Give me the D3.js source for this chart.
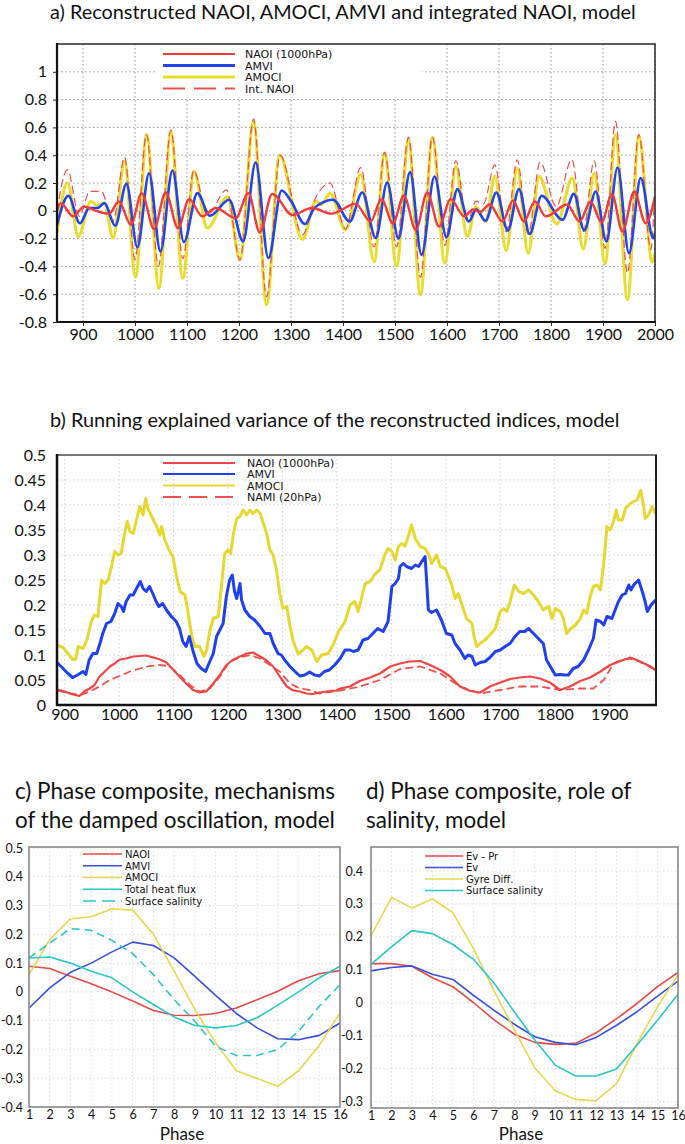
<!DOCTYPE html>
<html><head><meta charset="utf-8">
<script src="https://cdn.jsdelivr.net/npm/d3@7"></script>
<style>body{margin:0;background:#fff}</style>
</head><body>
<svg id="chart" width="685" height="1144" xmlns="http://www.w3.org/2000/svg"></svg>
<script>
// ---------------- DATA ----------------
// Panel a: reconstructed indices, [year, value] read at extrema
const aAMOCI = [[850,-0.16],[870,0.20],[891,-0.185],[915,0.067],[927,0.04],[941,0.055],[958,-0.196],[980,0.355],[1001,-0.477],[1022.5,0.547],[1046,-0.556],[1069,0.57],[1092,-0.485],[1113.5,0.283],[1139,-0.125],[1178,0.10],[1202,-0.35],[1228,0.64],[1253,-0.676],[1278,0.40],[1322,-0.204],[1348,0.07],[1358,0.045],[1375,0.125],[1405,-0.137],[1434,0.26],[1460,-0.365],[1480,0.415],[1503,-0.396],[1526,0.51],[1549,-0.604],[1572,0.527],[1596,-0.377],[1617,0.32],[1639,-0.185],[1656,0.03],[1674,-0.077],[1692,0.247],[1714,-0.285],[1735,0.307],[1756,-0.305],[1777,0.247],[1811,-0.095],[1841,0.235],[1862,-0.276],[1883,0.27],[1904,-0.38],[1924,0.547],[1947,-0.64],[1969,0.535],[1995,-0.37],[2000,-0.31]];
const aAMVI = [[850,-0.1],[872,0.108],[894,-0.09],[912,0.02],[928,0.02],[941,0.055],[962,-0.108],[983.5,0.194],[1004.6,-0.262],[1027,0.27],[1049,-0.293],[1072,0.29],[1094,-0.225],[1120,0.127],[1144,-0.036],[1181,0.08],[1208,-0.22],[1232,0.347],[1256.5,-0.34],[1282,0.146],[1300,0.07],[1327,-0.096],[1345,0.02],[1381,0.08],[1413,-0.077],[1437,0.132],[1463,-0.196],[1485,0.204],[1506.5,-0.2],[1529,0.278],[1551,-0.317],[1576,0.247],[1599,-0.19],[1620,0.156],[1642,-0.077],[1656,0.01],[1674,-0.072],[1695,0.132],[1717,-0.142],[1738.5,0.156],[1759,-0.166],[1782,0.108],[1822,-0.065],[1844,0.122],[1864,-0.142],[1886,0.139],[1906.6,-0.22],[1928,0.312],[1950,-0.305],[1972.5,0.235],[1996.7,-0.197],[2000,-0.16]];
const aNAOI = [[850,0.0],[857,0.055],[881,-0.04],[902,0.03],[925,0.0],[950,-0.022],[969,0.067],[992,-0.1],[1013,0.127],[1036.5,-0.13],[1059,0.132],[1082.7,-0.125],[1104,0.084],[1129.6,-0.04],[1155,0.02],[1193.6,-0.053],[1218,0.127],[1240,-0.156],[1264,0.122],[1302.7,-0.03],[1340,0.02],[1378,-0.02],[1424,0.05],[1453,-0.077],[1474,0.084],[1496,-0.09],[1517,0.108],[1540,-0.137],[1562,0.132],[1584.6,-0.113],[1607,0.084],[1633,-0.04],[1650,0.01],[1663,-0.01],[1682,0.045],[1706.6,-0.077],[1727,0.074],[1748,-0.077],[1769,0.067],[1790,-0.04],[1831,0.045],[1855,-0.077],[1876,0.067],[1897.5,-0.084],[1917,0.122],[1937.5,-0.149],[1960,0.139],[1982,-0.09],[2000,0.1]];
const aIntNAOI = [[850,0.0],[870,0.295],[893,-0.04],[913,0.14],[935,0.14],[958,-0.07],[980,0.386],[1000,-0.35],[1022,0.55],[1045,-0.40],[1069,0.58],[1092,-0.345],[1113,0.29],[1139,-0.03],[1176,0.15],[1202,-0.355],[1228,0.66],[1253,-0.62],[1279,0.40],[1322,-0.173],[1347,0.09],[1375,0.2],[1405,-0.13],[1434,0.31],[1460,-0.26],[1480,0.42],[1503,-0.26],[1526,0.53],[1549,-0.48],[1572,0.53],[1596,-0.25],[1617,0.36],[1639,-0.077],[1656,0.07],[1670,0.05],[1692,0.33],[1714,-0.15],[1735,0.367],[1756,-0.17],[1779,0.35],[1810,0.03],[1840,0.37],[1862,-0.15],[1883,0.36],[1904,-0.27],[1924,0.643],[1947,-0.448],[1969,0.55],[1992,-0.28],[2000,0.2]];
const aXTicks = [900,1000,1100,1200,1300,1400,1500,1600,1700,1800,1900,2000];
const aYTicks = [-0.8,-0.6,-0.4,-0.2,0,0.2,0.4,0.6,0.8,1];
const aYLabels = ["-0.8","-0.6","-0.4","-0.2","0","0.2","0.4","0.6","0.8","1"];

// Panel b: running explained variance, [year, value]
const bAMOCI = [[886,0.12],[897,0.115],[906,0.103],[915,0.091],[920,0.091],[925,0.117],[934,0.113],[941,0.13],[949,0.167],[955,0.18],[961,0.177],[968,0.25],[974,0.243],[980,0.25],[986,0.277],[992,0.307],[998,0.30],[1004,0.303],[1010,0.343],[1015,0.367],[1020,0.347],[1026,0.343],[1032,0.37],[1038,0.397],[1044,0.38],[1049,0.413],[1053,0.393],[1060,0.377],[1069,0.357],[1075,0.34],[1078,0.357],[1084,0.33],[1093,0.307],[1099,0.297],[1105,0.26],[1112,0.227],[1121,0.22],[1127,0.183],[1133,0.14],[1139,0.117],[1148,0.117],[1156,0.097],[1161,0.11],[1167,0.15],[1173,0.173],[1182,0.177],[1188,0.237],[1194,0.303],[1200,0.31],[1205,0.303],[1210,0.343],[1216,0.373],[1222,0.377],[1228,0.39],[1234,0.38],[1240,0.39],[1246,0.383],[1253,0.39],[1259,0.383],[1265,0.363],[1271,0.343],[1277,0.31],[1283,0.30],[1289,0.27],[1295,0.223],[1301,0.193],[1308,0.197],[1314,0.157],[1320,0.127],[1329,0.102],[1335,0.107],[1344,0.117],[1354,0.11],[1363,0.087],[1372,0.10],[1384,0.103],[1393,0.12],[1403,0.147],[1415,0.167],[1424,0.20],[1433,0.207],[1439,0.187],[1446,0.217],[1452,0.243],[1461,0.247],[1470,0.262],[1479,0.27],[1488,0.30],[1494,0.313],[1501,0.307],[1507,0.29],[1513,0.317],[1519,0.323],[1525,0.318],[1531,0.337],[1537,0.36],[1544,0.333],[1553,0.317],[1562,0.313],[1568,0.303],[1574,0.283],[1583,0.30],[1590,0.277],[1599,0.273],[1605,0.257],[1611,0.24],[1617,0.213],[1623,0.223],[1629,0.203],[1638,0.173],[1648,0.163],[1652,0.137],[1657,0.117],[1663,0.123],[1672,0.13],[1681,0.14],[1691,0.153],[1700,0.187],[1706,0.193],[1712,0.187],[1718,0.207],[1726,0.24],[1734,0.227],[1743,0.223],[1752,0.23],[1761,0.22],[1770,0.207],[1779,0.19],[1789,0.197],[1795,0.173],[1801,0.193],[1810,0.187],[1816,0.173],[1822,0.143],[1830,0.153],[1838,0.16],[1847,0.173],[1853,0.19],[1859,0.183],[1865,0.217],[1871,0.237],[1878,0.24],[1884,0.23],[1890,0.283],[1896,0.357],[1902,0.35],[1908,0.367],[1913,0.39],[1917,0.37],[1924,0.37],[1930,0.393],[1939,0.403],[1945,0.407],[1951,0.41],[1958,0.429],[1963,0.40],[1966,0.373],[1972,0.38],[1979,0.397],[1985,0.383]];
const bAMVI = [[886,0.085],[897,0.073],[906,0.063],[915,0.055],[925,0.061],[934,0.067],[939,0.061],[945,0.09],[952,0.103],[959,0.103],[966,0.127],[970,0.143],[977,0.163],[985,0.167],[992,0.183],[998,0.203],[1004,0.197],[1008,0.187],[1013,0.207],[1020,0.22],[1026,0.22],[1032,0.233],[1039,0.247],[1044,0.233],[1050,0.227],[1056,0.237],[1063,0.22],[1068,0.207],[1073,0.197],[1080,0.203],[1087,0.19],[1096,0.177],[1105,0.167],[1111,0.153],[1117,0.127],[1123,0.117],[1129,0.137],[1136,0.107],[1143,0.083],[1151,0.073],[1159,0.067],[1165,0.083],[1173,0.103],[1179,0.137],[1185,0.15],[1191,0.163],[1197,0.217],[1203,0.25],[1208,0.26],[1212,0.227],[1216,0.213],[1222,0.243],[1225,0.21],[1231,0.19],[1240,0.177],[1249,0.17],[1259,0.157],[1268,0.143],[1277,0.143],[1283,0.123],[1292,0.103],[1298,0.1],[1304,0.09],[1314,0.077],[1323,0.067],[1332,0.058],[1341,0.06],[1350,0.066],[1359,0.06],[1368,0.058],[1377,0.067],[1386,0.07],[1396,0.08],[1406,0.093],[1415,0.11],[1424,0.11],[1430,0.107],[1439,0.11],[1448,0.13],[1457,0.133],[1466,0.143],[1475,0.153],[1485,0.147],[1494,0.167],[1501,0.237],[1507,0.243],[1513,0.253],[1516,0.277],[1522,0.283],[1528,0.277],[1537,0.273],[1544,0.28],[1550,0.277],[1556,0.287],[1562,0.297],[1568,0.19],[1574,0.185],[1583,0.19],[1592,0.17],[1601,0.143],[1611,0.14],[1617,0.123],[1626,0.11],[1635,0.093],[1641,0.1],[1648,0.097],[1654,0.08],[1663,0.085],[1672,0.087],[1681,0.095],[1691,0.107],[1700,0.11],[1709,0.117],[1718,0.123],[1727,0.137],[1736,0.147],[1745,0.147],[1752,0.153],[1761,0.143],[1770,0.133],[1779,0.123],[1785,0.09],[1792,0.077],[1801,0.06],[1810,0.061],[1819,0.06],[1825,0.06],[1834,0.073],[1843,0.077],[1853,0.09],[1862,0.11],[1871,0.133],[1876,0.17],[1884,0.167],[1890,0.16],[1896,0.177],[1905,0.173],[1911,0.19],[1917,0.207],[1924,0.22],[1930,0.223],[1936,0.24],[1940,0.23],[1945,0.24],[1954,0.25],[1960,0.23],[1966,0.207],[1970,0.187],[1977,0.2],[1985,0.21]];
const bNAOI = [[886,0.031],[900,0.027],[912,0.022],[927,0.018],[936,0.027],[946,0.033],[955,0.04],[964,0.057],[974,0.067],[983,0.077],[992,0.083],[1001,0.091],[1013,0.093],[1026,0.097],[1038,0.098],[1050,0.099],[1063,0.095],[1075,0.091],[1087,0.085],[1099,0.071],[1111,0.057],[1123,0.043],[1136,0.03],[1148,0.025],[1160,0.027],[1173,0.043],[1185,0.06],[1197,0.08],[1210,0.091],[1222,0.097],[1234,0.103],[1246,0.105],[1259,0.097],[1271,0.089],[1283,0.077],[1295,0.057],[1308,0.037],[1320,0.029],[1332,0.027],[1344,0.023],[1356,0.022],[1368,0.025],[1381,0.027],[1399,0.029],[1406,0.033],[1424,0.037],[1442,0.048],[1461,0.055],[1479,0.063],[1498,0.077],[1516,0.083],[1534,0.087],[1553,0.088],[1571,0.08],[1590,0.07],[1608,0.057],[1626,0.037],[1645,0.028],[1663,0.025],[1681,0.037],[1700,0.045],[1718,0.052],[1736,0.055],[1755,0.057],[1773,0.053],[1791,0.045],[1810,0.03],[1828,0.037],[1847,0.048],[1865,0.055],[1884,0.067],[1902,0.08],[1921,0.088],[1939,0.095],[1957,0.087],[1976,0.077],[1985,0.07]];
const bNAMI = [[886,0.029],[912,0.023],[930,0.02],[946,0.027],[964,0.037],[983,0.05],[1001,0.058],[1020,0.067],[1038,0.073],[1056,0.078],[1075,0.08],[1093,0.077],[1111,0.06],[1130,0.04],[1148,0.027],[1167,0.033],[1185,0.057],[1203,0.087],[1222,0.095],[1240,0.1],[1259,0.093],[1277,0.08],[1295,0.067],[1314,0.043],[1332,0.033],[1350,0.03],[1368,0.023],[1393,0.027],[1406,0.029],[1442,0.037],[1479,0.05],[1516,0.072],[1553,0.077],[1590,0.063],[1626,0.037],[1663,0.023],[1700,0.03],[1736,0.037],[1773,0.037],[1810,0.03],[1847,0.033],[1871,0.033],[1890,0.05],[1908,0.083],[1926,0.092],[1945,0.092],[1963,0.083],[1985,0.07]];
const bXTicks = [900,1000,1100,1200,1300,1400,1500,1600,1700,1800,1900];
const bYTicks = [0,0.05,0.1,0.15,0.2,0.25,0.3,0.35,0.4,0.45,0.5];
const bYLabels = ["0","0.05","0.1","0.15","0.2","0.25","0.3","0.35","0.4","0.45","0.5"];

// Panels c, d: phase composites (phase 1..16)
const phases = [1,2,3,4,5,6,7,8,9,10,11,12,13,14,15,16];
const cNAOI   = [0.089,0.081,0.054,0.028,0.0,-0.032,-0.065,-0.081,-0.082,-0.075,-0.056,-0.027,0.002,0.039,0.063,0.074];
const cAMVI   = [-0.056,0.014,0.068,0.10,0.139,0.173,0.161,0.118,0.054,-0.012,-0.075,-0.125,-0.163,-0.166,-0.151,-0.108];
const cAMOCI  = [0.06,0.182,0.254,0.261,0.289,0.284,0.2,0.072,-0.061,-0.177,-0.274,-0.301,-0.328,-0.274,-0.186,-0.073];
const cHeat   = [0.118,0.121,0.10,0.072,0.049,0.0,-0.044,-0.087,-0.117,-0.125,-0.117,-0.09,-0.046,0.0,0.049,0.089];
const cSal    = [0.118,0.17,0.22,0.214,0.179,0.133,0.06,-0.027,-0.102,-0.189,-0.221,-0.221,-0.2,-0.137,-0.05,0.025];
const dEvPr   = [0.119,0.119,0.111,0.076,0.049,0.001,-0.051,-0.095,-0.12,-0.126,-0.123,-0.091,-0.048,-0.002,0.049,0.092];
const dEv     = [0.097,0.107,0.112,0.087,0.071,0.023,-0.022,-0.065,-0.103,-0.12,-0.127,-0.105,-0.068,-0.027,0.02,0.066];
const dGyre   = [0.203,0.32,0.288,0.315,0.274,0.165,0.038,-0.081,-0.197,-0.267,-0.293,-0.297,-0.245,-0.123,-0.012,0.084];
const dSal    = [0.117,0.17,0.219,0.21,0.177,0.132,0.061,-0.027,-0.113,-0.189,-0.222,-0.222,-0.201,-0.128,-0.053,0.026];
const cYTicks = [-0.4,-0.3,-0.2,-0.1,0,0.1,0.2,0.3,0.4,0.5];
const cYLabels = ["-0.4","-0.3","-0.2","-0.1","0","0.1","0.2","0.3","0.4","0.5"];
const dYTicks = [-0.3,-0.2,-0.1,0,0.1,0.2,0.3,0.4];
const dYLabels = ["-0.3","-0.2","-0.1","0","0.1","0.2","0.3","0.4"];

// ---------------- DRAW ----------------
const svg = d3.select("#chart");
const FONT = "Lato, 'Open Sans', sans-serif";
const LFONT = "'DejaVu Sans', Verdana, sans-serif";
const defs = svg.append("defs");
let clipN = 0;
function clip(x0,y0,x1,y1){
  const id = "clip"+(clipN++);
  defs.append("clipPath").attr("id",id).append("rect").attr("x",x0).attr("y",y0).attr("width",x1-x0).attr("height",y1-y0);
  return "url(#"+id+")";
}
function grid(g, x, y, xt, yt, color, dash, x0,x1,y0,y1){
  g.selectAll(null).data(xt).enter().append("line")
    .attr("x1",d=>x(d)).attr("x2",d=>x(d)).attr("y1",y0).attr("y2",y1)
    .attr("stroke",color).attr("stroke-width",1).attr("stroke-dasharray",dash);
  g.selectAll(null).data(yt).enter().append("line")
    .attr("y1",d=>y(d)).attr("y2",d=>y(d)).attr("x1",x0).attr("x2",x1)
    .attr("stroke",color).attr("stroke-width",1).attr("stroke-dasharray",dash);
}
function styleAxis(g, size){
  g.select(".domain").remove();
  g.selectAll("text").attr("font-family",FONT).attr("font-size",size).attr("fill","#111");
  g.selectAll("line").attr("stroke","#222");
}
function legend(items, x1, x2, tx, rows, fsize){
  const g = svg.append("g");
  items.forEach((it,i)=>{
    g.append("line").attr("x1",x1).attr("x2",x2).attr("y1",rows[i]).attr("y2",rows[i])
      .attr("stroke",it.color).attr("stroke-width",it.w).attr("stroke-dasharray",it.dash||null);
    g.append("text").attr("x",tx).attr("y",rows[i]+fsize*0.37).text(it.label)
      .attr("font-family",LFONT).attr("font-size",fsize).attr("fill","#111");
  });
}

// ---- Panel a ----
const xa = d3.scaleLinear([850,2000],[57,655]);
const ya = d3.scaleLinear([-0.8,1.2],[322,44]);
const ga = svg.append("g");
grid(ga, xa, ya, aXTicks, aYTicks.filter(v=>v>-0.8), "#999", "1.5,2.5", 57,655,44,322);
ga.append("rect").attr("x",157).attr("y",45).attr("width",265).attr("height",52).attr("fill","#fff");
const smooth = d3.line().x(d=>xa(d[0])).y(d=>ya(d[1])).curve(d3.curveMonotoneX);
const la = ga.append("g").attr("clip-path",clip(57,44,655,322));
const aSeries = [
  {d:aAMOCI, c:"#e8dc2c", w:3.2},
  {d:aIntNAOI, c:"#ee5050", w:1.2, dash:"8,4"},
  {d:aAMVI, c:"#2244ee", w:2.6},
  {d:aNAOI, c:"#f23a3a", w:2.4}
];
aSeries.forEach(s=>la.append("path").attr("d",smooth(s.d)).attr("fill","none")
  .attr("stroke",s.c).attr("stroke-width",s.w).attr("stroke-dasharray",s.dash||null).attr("stroke-linejoin","round"));
ga.append("rect").attr("x",57).attr("y",44).attr("width",598).attr("height",278).attr("fill","none").attr("stroke","#333").attr("stroke-width",1.6);
ga.append("line").attr("x1",57).attr("x2",57).attr("y1",43).attr("y2",323).attr("stroke","#111").attr("stroke-width",2.2);
ga.append("line").attr("x1",56).attr("x2",656).attr("y1",322).attr("y2",322).attr("stroke","#111").attr("stroke-width",2.2);
styleAxis(ga.append("g").attr("transform","translate(57,0)")
  .call(d3.axisLeft(ya).tickValues(aYTicks).tickFormat((d,i)=>aYLabels[i]).tickSize(4).tickPadding(6)), 16);
styleAxis(ga.append("g").attr("transform","translate(0,322)")
  .call(d3.axisBottom(xa).tickValues(aXTicks).tickFormat(d=>String(d)).tickSize(4).tickPadding(3)), 16);
legend([
  {label:"NAOI (1000hPa)", color:"#f23a3a", w:2},
  {label:"AMVI", color:"#2244ee", w:3},
  {label:"AMOCI", color:"#e8dc2c", w:3},
  {label:"Int. NAOI", color:"#ee5050", w:2, dash:"22,9"}
], 163, 235, 245, [54,65.5,77,88.5], 11);

// ---- Panel b ----
const xb = d3.scaleLinear([886,1986],[57,656]);
const yb = d3.scaleLinear([0,0.5],[705,455]);
const gb = svg.append("g");
grid(gb, xb, yb, bXTicks, bYTicks.filter(v=>v>0 && v<0.5), "#d4d4d4", "1.5,2.5", 57,656,455,705);
const lineB = d3.line().x(d=>xb(d[0])).y(d=>yb(d[1]));
const lb = gb.append("g").attr("clip-path",clip(57,455,656,705));
[
  {d:bAMOCI, c:"#e6d830", w:3},
  {d:bAMVI, c:"#2040f0", w:3},
  {d:bNAMI, c:"#f05050", w:1.8, dash:"8,4"},
  {d:bNAOI, c:"#f04545", w:2.2}
].forEach(s=>lb.append("path").attr("d",lineB(s.d)).attr("fill","none")
  .attr("stroke",s.c).attr("stroke-width",s.w).attr("stroke-dasharray",s.dash||null).attr("stroke-linejoin","round"));
gb.append("rect").attr("x",57).attr("y",455).attr("width",599).attr("height",250).attr("fill","none").attr("stroke","#777").attr("stroke-width",2);
gb.append("line").attr("x1",656).attr("x2",656).attr("y1",455).attr("y2",706).attr("stroke","#222").attr("stroke-width",2);
gb.append("line").attr("x1",57).attr("x2",57).attr("y1",454).attr("y2",706).attr("stroke","#111").attr("stroke-width",2.5);
gb.append("line").attr("x1",56).attr("x2",657).attr("y1",705).attr("y2",705).attr("stroke","#111").attr("stroke-width",2.5);
styleAxis(gb.append("g").attr("transform","translate(57,0)")
  .call(d3.axisLeft(yb).tickValues(bYTicks).tickFormat((d,i)=>bYLabels[i]).tickSize(0).tickPadding(11)), 16);
styleAxis(gb.append("g").attr("transform","translate(0,705)")
  .call(d3.axisBottom(xb).tickValues(bXTicks).tickFormat(d=>String(d)).tickSize(0).tickPadding(4)), 16);
legend([
  {label:"NAOI (1000hPa)", color:"#f04545", w:2},
  {label:"AMVI", color:"#2040f0", w:2},
  {label:"AMOCI", color:"#e6d830", w:2},
  {label:"NAMI (20hPa)", color:"#f05050", w:2, dash:"18,8"}
], 163, 235, 247, [463,474,485.5,497], 11);

// ---- Panels c, d ----
function phasePanel(x, y, yt, ylab, series, x0, x1, y0, y1, labelX){
  const g = svg.append("g");
  grid(g, x, y, phases, yt, "#dcdcdc", "1.5,2.5", x0, x1, y0, y1);
  const ln = d3.line().x((d,i)=>x(phases[i])).y(d=>y(d));
  const lg = g.append("g").attr("clip-path",clip(x0,y0,x1,y1));
  series.forEach(s=>lg.append("path").attr("d",ln(s.d)).attr("fill","none")
    .attr("stroke",s.c).attr("stroke-width",1.6).attr("stroke-dasharray",s.dash||null).attr("stroke-linejoin","round"));
  g.append("rect").attr("x",x0).attr("y",y0).attr("width",x1-x0).attr("height",y1-y0)
    .attr("fill","none").attr("stroke","#888").attr("stroke-width",1.6);
  styleAxis(g.append("g").attr("transform","translate("+x0+",0)")
    .call(d3.axisLeft(y).tickValues(yt).tickFormat((d,i)=>ylab[i]).tickSize(0).tickPadding(x0<100?6:8)), 12.5);
  styleAxis(g.append("g").attr("transform","translate(0,"+y1+")")
    .call(d3.axisBottom(x).tickValues(phases).tickFormat(d=>String(d)).tickSize(0).tickPadding(3)), 12.5);
  g.append("text").attr("x",labelX).attr("y",1140).attr("text-anchor","middle")
    .attr("font-family",FONT).attr("font-size",17).attr("fill","#111").text("Phase");
}
const cRed="#e84848", cBlue="#3a4ee0", cYel="#e6d84e", cCyan="#2cc6c6";
const xc = d3.scaleLinear([1,16],[29,340]);
const yc = d3.scaleLinear([-0.4,0.5],[1107,848]);
phasePanel(xc, yc, cYTicks, cYLabels, [
  {d:cNAOI,c:cRed},{d:cAMVI,c:cBlue},{d:cAMOCI,c:cYel},{d:cHeat,c:cCyan},{d:cSal,c:cCyan,dash:"8,5"}
], 29, 340, 847, 1107, 182);
legend([
  {label:"NAOI", color:cRed, w:1.6},
  {label:"AMVI", color:cBlue, w:1.6},
  {label:"AMOCI", color:cYel, w:1.6},
  {label:"Total heat flux", color:cCyan, w:1.6},
  {label:"Surface salinity", color:cCyan, w:1.6, dash:"13,6"}
], 83, 122, 125, [854,865.8,877.5,889.3,901], 10);

const xd = d3.scaleLinear([1,16],[371,678]);
const yd = d3.scaleLinear([-0.3,0.4],[1101.7,871]);
phasePanel(xd, yd, dYTicks, dYLabels, [
  {d:dEvPr,c:cRed},{d:dEv,c:cBlue},{d:dGyre,c:cYel},{d:dSal,c:cCyan}
], 371, 678, 847, 1108, 521);
legend([
  {label:"Ev - Pr", color:cRed, w:1.6},
  {label:"Ev", color:cBlue, w:1.6},
  {label:"Gyre Diff.", color:cYel, w:1.6},
  {label:"Surface salinity", color:cCyan, w:1.6}
], 425, 463, 466, [856,867.5,879,890.5], 10);

// ---- Titles ----
function title(x, y, txt){
  return svg.append("text").attr("x",x).attr("y",y).attr("font-family",FONT)
    .attr("font-size",20).attr("fill","#111").text(txt);
}
const tA = title(50, 19, "a) Reconstructed NAOI, AMOCI, AMVI and integrated NAOI, model");
const tB = title(50, 427, "b) Running explained variance of the reconstructed indices, model");
const tC1 = title(15, 799, "c) Phase composite, mechanisms");
const tC2 = title(15, 828, "of the damped oscillation, model");
const tD1 = title(366, 799, "d) Phase composite, role of");
const tD2 = title(366, 828, "salinity, model");
const fsA = 20*586/tA.node().getComputedTextLength();
tA.attr("font-size",fsA); tB.attr("font-size",fsA);
const fsC = 20*320/tC2.node().getComputedTextLength();
[tC1,tC2,tD1,tD2].forEach(t=>t.attr("font-size",fsC));
</script>
</body></html>
